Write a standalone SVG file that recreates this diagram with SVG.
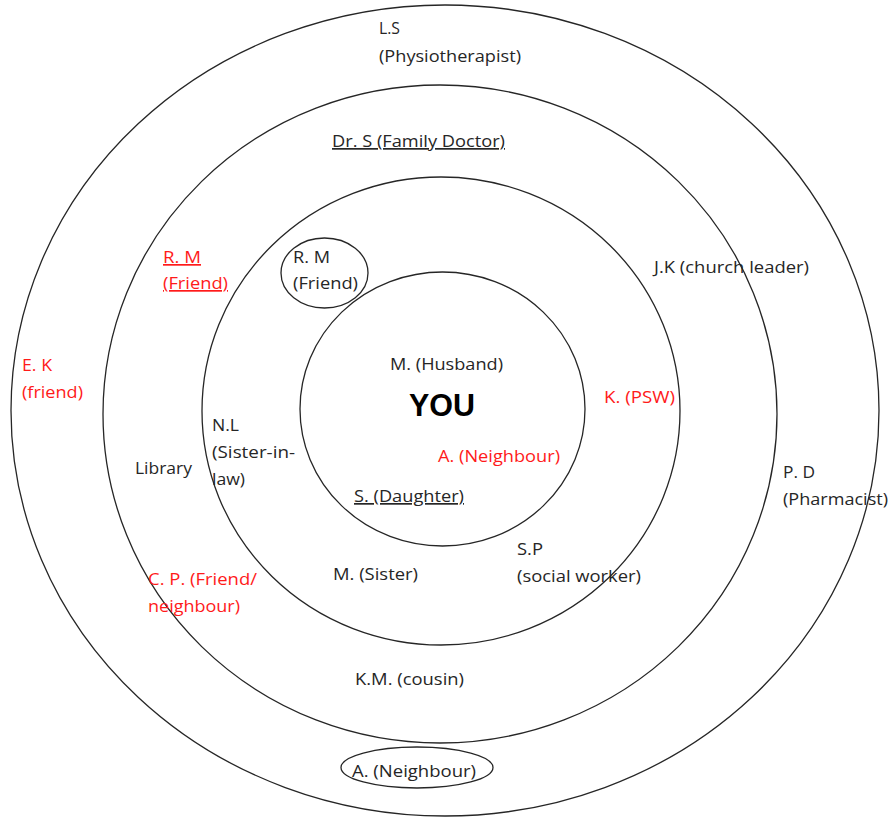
<svg xmlns="http://www.w3.org/2000/svg" width="893" height="818" viewBox="0 0 893 818">
<style>
.ring{fill:none;stroke:#262626;stroke-width:1.3}
text{font-family:"Open Sans","Liberation Sans",sans-serif;font-size:17px;fill:#262626}
.red{fill:#ff1a1a}
.u{text-decoration:underline;text-decoration-skip-ink:none}
.you{font-family:"Liberation Sans",Arial,sans-serif;font-weight:bold;font-size:31px;fill:#000}
</style>
<rect width="893" height="818" fill="#fff"/>
<g id="rings">
<ellipse class="ring" cx="445" cy="410.5" rx="434" ry="405.5"/>
<ellipse class="ring" cx="440" cy="414" rx="337" ry="329"/>
<ellipse class="ring" cx="441" cy="411" rx="239" ry="234"/>
<ellipse class="ring" cx="442.5" cy="409" rx="142.5" ry="137"/>
</g>
<g id="connectors"/>
<g id="you"><text class="you" x="409" y="416" textLength="66" lengthAdjust="spacingAndGlyphs">YOU</text></g>
<g id="husband"><text x="390" y="370" textLength="113" lengthAdjust="spacingAndGlyphs">M. (Husband)</text></g>
<g id="neighbour-inner"><text class="red" x="438" y="462" textLength="122" lengthAdjust="spacingAndGlyphs">A. (Neighbour)</text></g>
<g id="daughter"><text class="u" x="354" y="502" textLength="110" lengthAdjust="spacingAndGlyphs">S. (Daughter)</text></g>
<g id="friend-rm-circled">
<ellipse class="ring" cx="324.5" cy="273" rx="43.5" ry="35"/>
<text x="293" y="263" textLength="37" lengthAdjust="spacingAndGlyphs">R. M</text>
<text x="293" y="289" textLength="65" lengthAdjust="spacingAndGlyphs">(Friend)</text>
</g>
<g id="psw"><text class="red" x="604" y="403" textLength="71" lengthAdjust="spacingAndGlyphs">K. (PSW)</text></g>
<g id="sister-in-law">
<text x="212" y="431" textLength="27" lengthAdjust="spacingAndGlyphs">N.L</text>
<text x="212" y="458" textLength="83" lengthAdjust="spacingAndGlyphs">(Sister-in-</text>
<text x="212" y="485" textLength="33" lengthAdjust="spacingAndGlyphs">law)</text>
</g>
<g id="sister"><text x="333" y="580" textLength="85" lengthAdjust="spacingAndGlyphs">M. (Sister)</text></g>
<g id="social-worker">
<text x="517" y="555" textLength="26" lengthAdjust="spacingAndGlyphs">S.P</text>
<text x="517" y="582" textLength="124" lengthAdjust="spacingAndGlyphs">(social worker)</text>
</g>
<g id="family-doctor"><text class="u" x="332" y="147" textLength="173" lengthAdjust="spacingAndGlyphs">Dr. S (Family Doctor)</text></g>
<g id="friend-rm-red">
<text class="red u" x="163" y="263" textLength="38" lengthAdjust="spacingAndGlyphs">R. M</text>
<text class="red u" x="163" y="289" textLength="65" lengthAdjust="spacingAndGlyphs">(Friend)</text>
</g>
<g id="church-leader"><text x="654" y="273" textLength="155" lengthAdjust="spacingAndGlyphs">J.K (church leader)</text></g>
<g id="library"><text x="135" y="474" textLength="57" lengthAdjust="spacingAndGlyphs">Library</text></g>
<g id="friend-neighbour">
<text class="red" x="148" y="585" textLength="109" lengthAdjust="spacingAndGlyphs">C. P. (Friend/</text>
<text class="red" x="148" y="612" textLength="92" lengthAdjust="spacingAndGlyphs">neighbour)</text>
</g>
<g id="cousin"><text x="355" y="685" textLength="109" lengthAdjust="spacingAndGlyphs">K.M. (cousin)</text></g>
<g id="physiotherapist">
<text x="379" y="34" textLength="21" lengthAdjust="spacingAndGlyphs">L.S</text>
<text x="379" y="62" textLength="142" lengthAdjust="spacingAndGlyphs">(Physiotherapist)</text>
</g>
<g id="friend-ek">
<text class="red" x="22" y="371" textLength="30" lengthAdjust="spacingAndGlyphs">E. K</text>
<text class="red" x="22" y="398" textLength="61" lengthAdjust="spacingAndGlyphs">(friend)</text>
</g>
<g id="pharmacist">
<text x="783" y="478" textLength="32" lengthAdjust="spacingAndGlyphs">P. D</text>
<text x="783" y="505" textLength="105" lengthAdjust="spacingAndGlyphs">(Pharmacist)</text>
</g>
<g id="neighbour-outer">
<ellipse class="ring" cx="417" cy="767.5" rx="76" ry="20.5"/>
<text x="352" y="777" textLength="124" lengthAdjust="spacingAndGlyphs">A. (Neighbour)</text>
</g>
</svg>
